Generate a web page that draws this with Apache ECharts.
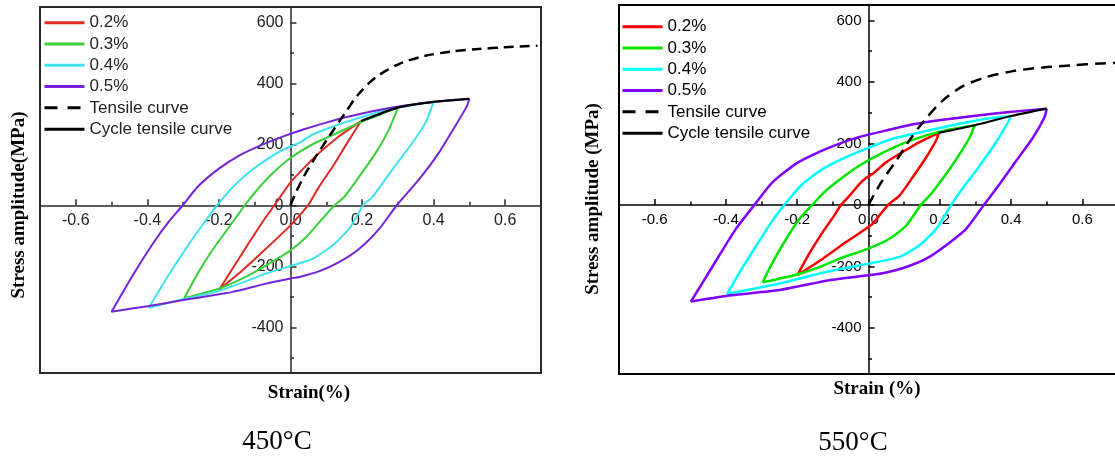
<!DOCTYPE html>
<html>
<head>
<meta charset="utf-8">
<script src="https://cdn.jsdelivr.net/npm/echarts@6/dist/echarts.min.js"></script>
<style>
html,body{margin:0;padding:0;background:#fff;overflow:hidden;width:1115px;height:459px;}
#c1{position:absolute;left:0;top:0;width:560px;height:459px;}
#c2{position:absolute;left:560px;top:0;width:560px;height:459px;}
</style>
</head>
<body>
<div id="c1"></div>
<div id="c2"></div>
<script>
// ---------- tick values ----------
var xTicks = [-0.6, -0.4, -0.2, 0, 0.2, 0.4, 0.6];
var xMinor = [-0.5, -0.3, -0.1, 0.1, 0.3, 0.5];
var yTicks = [-400, -200, 0, 200, 400, 600];
var yMinor = [-500, -300, -100, 100, 300, 500];
var seriesNames = ['0.2%', '0.3%', '0.4%', '0.5%', 'Tensile curve', 'Cycle tensile curve'];

// ---------- 450°C (strain %, stress MPa) ----------
var L_red = [[0.197,276],[0.155,198],[0.118,127],[0.08,61],[0.049,0],[0.024,-35],[0,-66],[-0.068,-142],[-0.134,-213],[-0.199,-276],
  [-0.16,-204],[-0.12,-130],[-0.08,-58],[-0.045,0],[0,75],[0.04,125],[0.08,171],[0.136,226],[0.197,276]];
var L_green = [[0.3,320],[0.275,248],[0.238,171],[0.192,94],[0.15,27],[0.123,0],[0.081,-55],[0.044,-104],[0,-148],[-0.068,-197],[-0.134,-240],[-0.199,-273],[-0.297,-305],
  [-0.26,-225],[-0.22,-150],[-0.18,-85],[-0.14,-20],[-0.128,0],[-0.09,55],[-0.05,105],[0,155],[0.062,200],[0.155,250],[0.2,274],[0.228,287],[0.3,320]];
var L_cyan = [[0.4,339],[0.377,270],[0.34,204],[0.284,116],[0.229,27],[0.203,0],[0.165,-76],[0.118,-131],[0.063,-175],[0,-199],[-0.068,-224],[-0.143,-257],[-0.208,-284],[-0.3,-308],[-0.396,-336],
  [-0.345,-237],[-0.29,-138],[-0.245,-63],[-0.205,0],[-0.16,61],[-0.114,110],[-0.068,149],[-0.021,182],[0.025,205],[0.062,232],[0.155,273],[0.247,306],[0.3,320],[0.4,339]];
var L_purple = [[0.5,349],[0.493,325],[0.46,259],[0.414,171],[0.358,83],[0.297,0],[0.249,-76],[0.193,-142],[0.137,-186],[0.081,-216],[0.025,-235],[0,-240],[-0.068,-257],[-0.162,-284],[-0.2,-292],[-0.3,-311],[-0.4,-331],[-0.5,-349],
  [-0.46,-268],[-0.42,-190],[-0.38,-118],[-0.34,-54],[-0.301,0],[-0.26,60],[-0.2,120],[-0.14,165],[-0.08,198],[-0.02,226],[0.04,250],[0.1,271],[0.16,290],[0.24,311],[0.32,327],[0.41,340],[0.5,349]];
var L_tensile = [[0,0],[0.016,44],[0.04,100],[0.071,160],[0.108,226],[0.15,298],[0.19,364],[0.238,419],[0.303,463],[0.377,490],[0.451,504],[0.525,512],[0.599,518],[0.69,523]];
var L_cycle = [[0.197,276],[0.3,320],[0.4,339],[0.5,349]];

// ---------- 550°C ----------
var R_red = [[0.197,234],[0.19,210],[0.162,155],[0.124,90],[0.087,30],[0.055,0],[0.012,-61],[0,-72],[-0.063,-121],[-0.128,-175],[-0.199,-228],
  [-0.166,-158],[-0.128,-88],[-0.096,-34],[-0.077,0],[-0.05,34],[-0.025,68],[-0.006,88],[0.012,101],[0.05,139],[0.096,172],[0.143,204],[0.197,234]];
var R_green = [[0.298,259],[0.284,220],[0.256,166],[0.218,101],[0.176,36],[0.147,0],[0.106,-67],[0.059,-110],[0,-142],[-0.081,-175],[-0.141,-204],[-0.203,-227],[-0.297,-252],
  [-0.269,-187],[-0.231,-111],[-0.194,-46],[-0.158,0],[-0.119,47],[-0.072,90],[-0.025,128],[0.031,164],[0.096,199],[0.162,226],[0.228,245],[0.298,259]];
var R_cyan = [[0.4,289],[0.387,259],[0.349,188],[0.302,112],[0.256,41],[0.232,0],[0.19,-78],[0.143,-131],[0.087,-169],[0,-191],[-0.11,-216],[-0.25,-256],[-0.397,-290],
  [-0.362,-220],[-0.315,-133],[-0.273,-57],[-0.236,0],[-0.185,68],[-0.128,117],[-0.063,155],[-0.006,183],[0.068,215],[0.162,240],[0.256,264],[0.349,283],[0.4,289]];
var R_purple = [[0.5,313],[0.494,286],[0.462,220],[0.415,144],[0.368,68],[0.324,0],[0.274,-78],[0.218,-131],[0.162,-175],[0.106,-202],[0.05,-220],[0,-229],[-0.11,-245],[-0.25,-277],[-0.384,-294],[-0.498,-314],
  [-0.465,-252],[-0.419,-165],[-0.372,-78],[-0.32,0],[-0.269,74],[-0.203,134],[-0.138,172],[-0.081,199],[-0.025,221],[0.05,242],[0.125,262],[0.209,277],[0.3,290],[0.396,302],[0.5,313]];
var R_tensile = [[0,0],[0.036,74],[0.078,144],[0.115,210],[0.157,275],[0.209,340],[0.265,386],[0.331,416],[0.405,435],[0.49,447],[0.574,454],[0.649,460],[0.7,462]];
var R_cycle = [[0.197,234],[0.298,259],[0.4,289],[0.5,313]];

var X_MIN = -0.7, X_MAX = 0.7, Y_MIN = -550, Y_MAX = 650;

function buildOption(p) {
  var axisLine = {color: p.axisColor, width: 1.5};
  // shift the axes so that they cross at (0, 0)
  var xOff = -p.grid[3] * (0 - Y_MIN) / (Y_MAX - Y_MIN);
  var yOff = -p.grid[2] * (0 - X_MIN) / (X_MAX - X_MIN);
  function xAx(vals, len, main) {
    return {
      type: 'value', min: X_MIN, max: X_MAX, position: 'bottom', offset: xOff,
      axisLine: {show: main, onZero: false, lineStyle: axisLine},
      axisTick: {show: true, inside: true, length: len, customValues: vals, lineStyle: axisLine},
      axisLabel: main ? {show: true, customValues: vals, margin: 7, color: p.textColor,
        fontFamily: 'Liberation Sans', fontSize: p.tickFont,
        formatter: function (v) { return Number(v).toFixed(1); }} : {show: false},
      splitLine: {show: false}
    };
  }
  function yAx(vals, len, main) {
    return {
      type: 'value', min: Y_MIN, max: Y_MAX, position: 'left', offset: yOff,
      axisLine: {show: main, onZero: false, lineStyle: axisLine},
      axisTick: {show: true, inside: true, length: len, customValues: vals, lineStyle: axisLine},
      axisLabel: main ? {show: true, customValues: vals, margin: 7, color: p.textColor,
        fontFamily: 'Liberation Sans', fontSize: p.tickFont} : {show: false},
      splitLine: {show: false}
    };
  }
  function loop(name, data, color) {
    return {name: name, type: 'line', data: data, symbol: 'none', showSymbol: false, smooth: 0.2,
      lineStyle: {color: color, width: p.lw}, itemStyle: {color: color}, z: 2, silent: true};
  }
  var series = [
    loop(seriesNames[0], p.data[0], p.colors[0]),
    loop(seriesNames[1], p.data[1], p.colors[1]),
    loop(seriesNames[2], p.data[2], p.colors[2]),
    loop(seriesNames[3], p.data[3], p.colors[3]),
    {name: seriesNames[4], type: 'line', data: p.data[4], symbol: 'none', showSymbol: false, smooth: 0.3,
      lineStyle: {color: '#000', width: 2.5, type: p.dash}, itemStyle: {color: '#000'}, z: 3, silent: true},
    {name: seriesNames[5], type: 'line', data: p.data[5], symbol: 'none', showSymbol: false, smooth: 0.2,
      lineStyle: {color: '#000', width: 2.2}, itemStyle: {color: '#000'}, z: 4, silent: true}
  ];
  var serif = 'Liberation Serif';
  return {
    animation: false,
    backgroundColor: '#fff',
    grid: {left: p.grid[0], top: p.grid[1], width: p.grid[2], height: p.grid[3], show: true,
      borderColor: p.axisColor, borderWidth: 2, backgroundColor: 'transparent'},
    xAxis: [xAx(xTicks, 6, true), xAx(xMinor, 3.5, false)],
    yAxis: [yAx(yTicks, 6, true), yAx(yMinor, 3.5, false)],
    legend: {
      orient: 'vertical', left: p.legend[0], top: p.legend[1], itemWidth: 40, itemHeight: 14, itemGap: 0,
      selectedMode: false, itemStyle: {opacity: 0}, lineStyle: {width: 3},
      textStyle: {fontFamily: 'Liberation Sans', fontSize: 17, color: p.textColor, lineHeight: 21.3},
      data: [seriesNames[0], seriesNames[1], seriesNames[2], seriesNames[3],
        {name: seriesNames[4], lineStyle: {width: 3, type: [13, 10]}}, seriesNames[5]]
    },
    graphic: [
      {type: 'text', x: p.yName[0], y: p.yName[1], rotation: Math.PI / 2,
        style: {text: p.yName[2], fontFamily: serif, fontWeight: 'bold', fontSize: p.nameFont, fill: '#000', textAlign: 'center', textVerticalAlign: 'middle'}},
      {type: 'text', x: p.xName[0], y: p.xName[1],
        style: {text: p.xName[2], fontFamily: serif, fontWeight: 'bold', fontSize: p.nameFont, fill: '#000', textAlign: 'center', textVerticalAlign: 'middle'}},
      {type: 'text', x: p.caption[0], y: p.caption[1],
        style: {text: p.caption[2], fontFamily: serif, fontSize: 27, fill: '#000', textAlign: 'center', textVerticalAlign: 'middle'}}
    ],
    series: series
  };
}

var c1 = echarts.init(document.getElementById('c1'), null, {renderer: 'canvas'});
c1.setOption(buildOption({
  axisColor: '#2a2a2a', textColor: '#222', tickFont: 16, lw: 2, nameFont: 19, dash: [10, 6],
  grid: [40, 7, 501, 366], legend: [38, 7],
  colors: ['#e02a24', '#3ccf3c', '#40e2ee', '#7424d8'],
  data: [L_red, L_green, L_cyan, L_purple, L_tensile, L_cycle],
  yName: [19, 205, 'Stress amplitude(MPa)'],
  xName: [309, 393, 'Strain(%)'],
  caption: [277, 442, '450°C']
}));

var c2 = echarts.init(document.getElementById('c2'), null, {renderer: 'canvas'});
c2.setOption(buildOption({
  axisColor: '#000', textColor: '#000', tickFont: 15, lw: 2.5, nameFont: 19, dash: [11, 7],
  grid: [59, 5, 499, 369], legend: [56, 11],
  colors: ['#ff0000', '#00e600', '#00ffff', '#8000ff'],
  data: [R_red, R_green, R_cyan, R_purple, R_tensile, R_cycle],
  yName: [33, 199, 'Stress amplitude (MPa)'],
  xName: [317, 389, 'Strain (%)'],
  caption: [293, 443, '550°C']
}));
</script>
</body>
</html>
